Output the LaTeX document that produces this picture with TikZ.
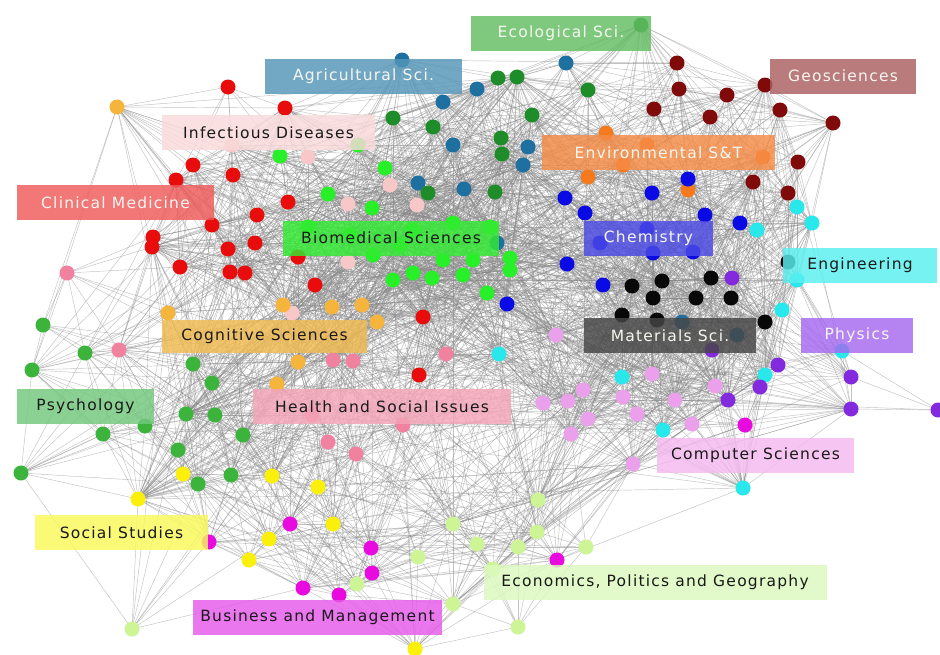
\documentclass[tikz,border=0pt]{standalone}
\usepackage{fontspec}
\setmainfont{DejaVu Sans}
\newfontfamily\labfont[LetterSpace=8]{DejaVu Sans}
% node colours, one per field
\definecolor{cRed}{RGB}{232,12,12}
\definecolor{cLPink}{RGB}{248,200,200}
\definecolor{cBGreen}{RGB}{40,240,40}
\definecolor{cTeal}{RGB}{30,112,160}
\definecolor{cDGreen}{RGB}{30,140,40}
\definecolor{cDRed}{RGB}{128,10,10}
\definecolor{cOrange}{RGB}{245,122,30}
\definecolor{cBlue}{RGB}{10,10,228}
\definecolor{cBlack}{RGB}{8,8,8}
\definecolor{cCyan}{RGB}{40,232,235}
\definecolor{cPurple}{RGB}{132,42,222}
\definecolor{cCPink}{RGB}{235,160,235}
\definecolor{cMagenta}{RGB}{232,10,222}
\definecolor{cYellow}{RGB}{250,240,10}
\definecolor{cLGreen}{RGB}{205,245,150}
\definecolor{cPGreen}{RGB}{60,180,60}
\definecolor{cHPink}{RGB}{240,130,160}
\definecolor{cLOrange}{RGB}{245,180,60}
% label box colours
\definecolor{bEco}{RGB}{100,190,100}
\definecolor{bAgr}{RGB}{85,150,185}
\definecolor{bGeo}{RGB}{170,95,95}
\definecolor{bInf}{RGB}{250,218,218}
\definecolor{bEnv}{RGB}{245,140,70}
\definecolor{bCli}{RGB}{240,90,90}
\definecolor{bBio}{RGB}{50,235,50}
\definecolor{bChe}{RGB}{75,75,230}
\definecolor{bEng}{RGB}{90,240,240}
\definecolor{bCog}{RGB}{240,185,80}
\definecolor{bMat}{RGB}{70,70,70}
\definecolor{bPhy}{RGB}{165,105,240}
\definecolor{bPsy}{RGB}{115,200,125}
\definecolor{bHea}{RGB}{245,165,185}
\definecolor{bCom}{RGB}{245,185,240}
\definecolor{bSoc}{RGB}{250,250,90}
\definecolor{bEcn}{RGB}{220,250,190}
\definecolor{bBus}{RGB}{230,90,235}
\definecolor{edgegray}{RGB}{135,135,135}
\definecolor{txtlight}{RGB}{246,246,240}
\definecolor{txtdark}{RGB}{25,25,25}

% x / y / colour of every vertex
\def\nodelist{%
228/87/cRed,285/108/cRed,193/165/cRed,176/180/cRed,233/175/cRed,288/202/cRed,257/215/cRed,212/225/cRed,153/237/cRed,152/247/cRed,180/267/cRed,228/249/cRed,255/243/cRed,230/272/cRed,245/273/cRed,315/285/cRed,298/257/cRed,423/317/cRed,419/375/cRed,%
232/145/cLPink,308/157/cLPink,390/185/cLPink,348/204/cLPink,417/205/cLPink,348/262/cLPink,292/313/cLPink,%
280/156/cBGreen,358/145/cBGreen,385/168/cBGreen,328/194/cBGreen,372/208/cBGreen,308/227/cBGreen,453/223/cBGreen,490/227/cBGreen,373/255/cBGreen,443/260/cBGreen,473/260/cBGreen,510/258/cBGreen,510/270/cBGreen,393/280/cBGreen,413/273/cBGreen,432/278/cBGreen,463/275/cBGreen,487/293/cBGreen,413/230/cBGreen,350/235/cBGreen,400/245/cBGreen,%
402/60/cTeal,443/102/cTeal,477/89/cTeal,566/63/cTeal,453/145/cTeal,528/147/cTeal,523/165/cTeal,418/183/cTeal,464/189/cTeal,497/243/cTeal,682/322/cTeal,737/335/cTeal,%
641/25/cDGreen,498/78/cDGreen,517/77/cDGreen,588/90/cDGreen,393/118/cDGreen,433/127/cDGreen,532/115/cDGreen,501/138/cDGreen,502/154/cDGreen,495/192/cDGreen,428/193/cDGreen,%
677/63/cDRed,679/89/cDRed,654/109/cDRed,710/117/cDRed,727/95/cDRed,765/85/cDRed,780/110/cDRed,833/123/cDRed,798/162/cDRed,753/182/cDRed,788/193/cDRed,%
606/133/cOrange,647/145/cOrange,763/157/cOrange,588/177/cOrange,623/165/cOrange,688/190/cOrange,%
688/179/cBlue,565/198/cBlue,652/193/cBlue,585/213/cBlue,705/215/cBlue,740/223/cBlue,647/229/cBlue,600/243/cBlue,653/253/cBlue,693/252/cBlue,567/264/cBlue,603/285/cBlue,507/304/cBlue,%
788/262/cBlack,632/286/cBlack,662/281/cBlack,711/278/cBlack,653/298/cBlack,696/298/cBlack,731/298/cBlack,622/315/cBlack,657/320/cBlack,765/322/cBlack,%
797/207/cCyan,812/223/cCyan,757/230/cCyan,797/280/cCyan,782/310/cCyan,499/354/cCyan,622/377/cCyan,663/430/cCyan,765/375/cCyan,743/488/cCyan,842/351/cCyan,%
732/278/cPurple,712/350/cPurple,778/365/cPurple,760/387/cPurple,728/400/cPurple,851/377/cPurple,851/409/cPurple,938/410/cPurple,%
556/335/cCPink,543/403/cCPink,568/401/cCPink,583/390/cCPink,652/374/cCPink,623/397/cCPink,588/419/cCPink,637/414/cCPink,675/400/cCPink,692/424/cCPink,715/386/cCPink,571/434/cCPink,633/464/cCPink,%
745/425/cMagenta,557/560/cMagenta,290/524/cMagenta,371/548/cMagenta,372/573/cMagenta,303/588/cMagenta,339/595/cMagenta,209/542/cMagenta,%
183/474/cYellow,272/476/cYellow,318/487/cYellow,138/499/cYellow,333/524/cYellow,269/539/cYellow,249/560/cYellow,415/649/cYellow,%
538/500/cLGreen,537/532/cLGreen,477/544/cLGreen,518/547/cLGreen,586/547/cLGreen,493/569/cLGreen,518/627/cLGreen,453/524/cLGreen,418/557/cLGreen,357/584/cLGreen,453/604/cLGreen,132/629/cLGreen,%
43/325/cPGreen,85/353/cPGreen,32/370/cPGreen,193/364/cPGreen,212/383/cPGreen,186/414/cPGreen,215/415/cPGreen,145/426/cPGreen,103/434/cPGreen,243/435/cPGreen,178/450/cPGreen,21/473/cPGreen,231/475/cPGreen,198/484/cPGreen,%
67/273/cHPink,119/350/cHPink,333/360/cHPink,353/361/cHPink,446/354/cHPink,403/425/cHPink,328/442/cHPink,356/454/cHPink,312/415/cHPink,%
117/107/cLOrange,168/313/cLOrange,283/305/cLOrange,332/307/cLOrange,362/305/cLOrange,377/322/cLOrange,298/362/cLOrange,277/384/cLOrange}

\newcommand\pxof[1]{\csname px#1\endcsname}
\newcommand\pyof[1]{\csname py#1\endcsname}

\tikzset{
  link/.style={draw=edgegray, line width=0.45pt, draw opacity=0.5},
  dot/.style={circle, inner sep=0pt, minimum size=15pt, draw=none},
  lab/.style={rectangle, inner sep=0pt, minimum height=35pt, fill opacity=0.82,
              text opacity=1, font=\labfont\fontsize{15.5}{18}\selectfont},
}

\begin{document}
\begin{tikzpicture}[x=1pt, y=-1pt]
\fill[white] (0,0) rectangle (940,654);
\useasboundingbox (0,0) rectangle (940,654);

% vertices as named coordinates
\foreach \x/\y/\c [count=\i] in \nodelist {
  \coordinate (n\i) at (\x,\y);
  \expandafter\xdef\csname px\i\endcsname{\x}%
  \expandafter\xdef\csname py\i\endcsname{\y}%
  \xdef\nnodes{\i}%
}

% links: all short pairs, a share of medium pairs, a few long ones
\foreach \i in {1,...,\nnodes} {
  \foreach \j in {\i,...,\nnodes} {
    \ifnum\j>\i
      \edef\dx{\the\numexpr\pxof{\i}-\pxof{\j}\relax}%
      \edef\dy{\the\numexpr\pyof{\i}-\pyof{\j}\relax}%
      \edef\dd{\the\numexpr\dx*\dx+\dy*\dy\relax}%
      \edef\hh{\the\numexpr\i*\j*37+\i*\i*11+\j*5\relax}%
      \ifnum\dd<14400
        \draw[link] (n\i) -- (n\j);
      \else\ifnum\dd<40000
        \ifnum\numexpr\hh-(\hh/2)*2\relax=0 \draw[link] (n\i) -- (n\j);\fi
      \else\ifnum\dd<102400
        \ifnum\numexpr\hh-(\hh/7)*7\relax=0 \draw[link] (n\i) -- (n\j);\fi
      \else
        \ifnum\numexpr\hh-(\hh/110)*110\relax=0 \draw[link] (n\i) -- (n\j);\fi
      \fi\fi\fi
    \fi
  }
}

% vertices
\foreach \x/\y/\c [count=\i] in \nodelist {
  \node[dot, fill=\c] (d\i) at (n\i) {};
}

% field labels
\node[lab, fill=bEco, text=txtlight, minimum width=180pt] (lEco) at (561,33.5) {Ecological Sci.};
\node[lab, fill=bAgr, text=txtlight, minimum width=197pt] (lAgr) at (363.5,76) {Agricultural Sci.};
\node[lab, fill=bGeo, text=txtlight, minimum width=146pt] (lGeo) at (843,76) {Geosciences};
\node[lab, fill=bInf, text=txtdark, minimum width=213pt] (lInf) at (268.5,132.5) {Infectious Diseases};
\node[lab, fill=bEnv, text=txtlight, minimum width=233pt] (lEnv) at (658.5,152.5) {Environmental S\&T};
\node[lab, fill=bCli, text=txtlight, minimum width=197pt] (lCli) at (115.5,202.5) {Clinical Medicine};
\node[lab, fill=bBio, text=txtdark, minimum width=216pt] (lBio) at (391,238) {Biomedical Sciences};
\node[lab, fill=bChe, text=txtlight, minimum width=129pt] (lChe) at (648.5,238) {Chemistry};
\node[lab, fill=bEng, text=txtdark, minimum width=154pt] (lEng) at (860,265.5) {Engineering};
\node[lab, fill=bCog, text=txtdark, minimum width=205pt, minimum height=33pt] (lCog) at (264.5,336) {Cognitive Sciences};
\node[lab, fill=bMat, text=txtlight, minimum width=172pt] (lMat) at (670,335.5) {Materials Sci.};
\node[lab, fill=bPhy, text=txtlight, minimum width=112pt] (lPhy) at (857,335.5) {Physics};
\node[lab, fill=bPsy, text=txtdark, minimum width=137pt] (lPsy) at (85.5,406.5) {Psychology};
\node[lab, fill=bHea, text=txtdark, minimum width=258pt] (lHea) at (382,406.5) {Health and Social Issues};
\node[lab, fill=bCom, text=txtdark, minimum width=197pt] (lCom) at (755.5,455.5) {Computer Sciences};
\node[lab, fill=bSoc, text=txtdark, minimum width=173pt] (lSoc) at (121.5,532.5) {Social Studies};
\node[lab, fill=bEcn, text=txtdark, minimum width=343pt] (lEcn) at (655,582) {Economics, Politics and Geography};
\node[lab, fill=bBus, text=txtdark, minimum width=249pt] (lBus) at (317.5,617) {Business and Management};
\end{tikzpicture}
\end{document}
